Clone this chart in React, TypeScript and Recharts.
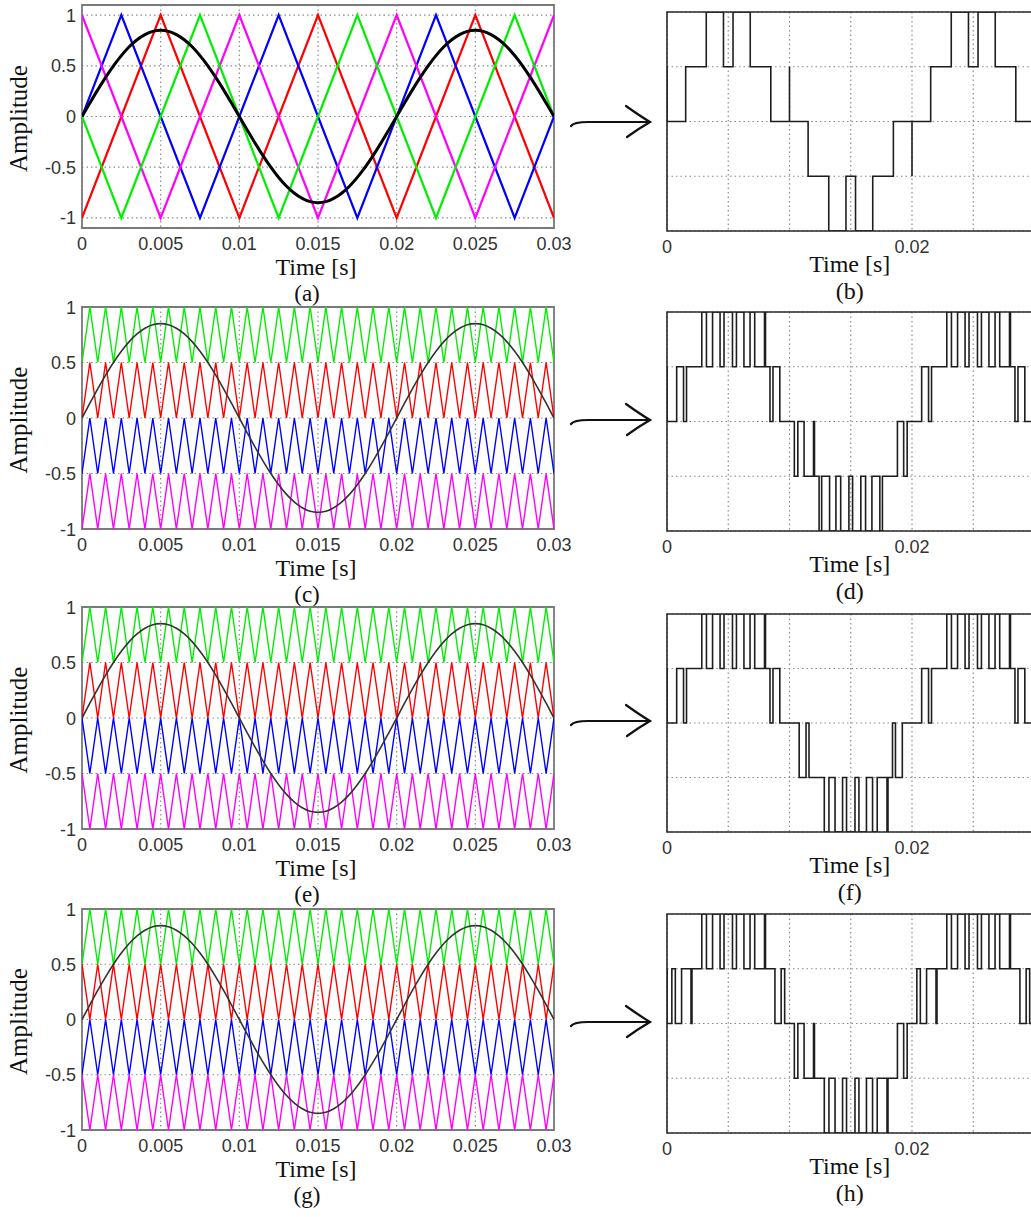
import React from 'react';
import { LineChart, Line, XAxis, YAxis, CartesianGrid, ReferenceArea } from 'recharts';

const SANS = "'Liberation Sans', Arial, sans-serif";
const SERIF = "'Liberation Serif', 'Times New Roman', serif";

// ---------- panel (a): phase-shifted carriers, vertices every 2.5 ms ----------
const tA = [0, 0.0025, 0.005, 0.0075, 0.01, 0.0125, 0.015, 0.0175, 0.02, 0.0225, 0.025, 0.0275, 0.03];
const redA = [-1, 0, 1, 0, -1, 0, 1, 0, -1, 0, 1, 0, -1];
const blueA = [0, 1, 0, -1, 0, 1, 0, -1, 0, 1, 0, -1, 0];
const magentaA = [1, 0, -1, 0, 1, 0, -1, 0, 1, 0, -1, 0, 1];
const greenA = [0, -1, 0, 1, 0, -1, 0, 1, 0, -1, 0, 1, 0];

// ---------- level-shifted carriers, vertices every 0.5 ms ----------
const t61 = [0, 0.0005, 0.001, 0.0015, 0.002, 0.0025, 0.003, 0.0035, 0.004, 0.0045, 0.005, 0.0055, 0.006, 0.0065, 0.007, 0.0075, 0.008, 0.0085, 0.009, 0.0095, 0.01, 0.0105, 0.011, 0.0115, 0.012, 0.0125, 0.013, 0.0135, 0.014, 0.0145, 0.015, 0.0155, 0.016, 0.0165, 0.017, 0.0175, 0.018, 0.0185, 0.019, 0.0195, 0.02, 0.0205, 0.021, 0.0215, 0.022, 0.0225, 0.023, 0.0235, 0.024, 0.0245, 0.025, 0.0255, 0.026, 0.0265, 0.027, 0.0275, 0.028, 0.0285, 0.029, 0.0295, 0.03];
const greenLow = [0.5, 1, 0.5, 1, 0.5, 1, 0.5, 1, 0.5, 1, 0.5, 1, 0.5, 1, 0.5, 1, 0.5, 1, 0.5, 1, 0.5, 1, 0.5, 1, 0.5, 1, 0.5, 1, 0.5, 1, 0.5, 1, 0.5, 1, 0.5, 1, 0.5, 1, 0.5, 1, 0.5, 1, 0.5, 1, 0.5, 1, 0.5, 1, 0.5, 1, 0.5, 1, 0.5, 1, 0.5, 1, 0.5, 1, 0.5, 1, 0.5];
const redLow = [0, 0.5, 0, 0.5, 0, 0.5, 0, 0.5, 0, 0.5, 0, 0.5, 0, 0.5, 0, 0.5, 0, 0.5, 0, 0.5, 0, 0.5, 0, 0.5, 0, 0.5, 0, 0.5, 0, 0.5, 0, 0.5, 0, 0.5, 0, 0.5, 0, 0.5, 0, 0.5, 0, 0.5, 0, 0.5, 0, 0.5, 0, 0.5, 0, 0.5, 0, 0.5, 0, 0.5, 0, 0.5, 0, 0.5, 0, 0.5, 0];
const redHigh = [0.5, 0, 0.5, 0, 0.5, 0, 0.5, 0, 0.5, 0, 0.5, 0, 0.5, 0, 0.5, 0, 0.5, 0, 0.5, 0, 0.5, 0, 0.5, 0, 0.5, 0, 0.5, 0, 0.5, 0, 0.5, 0, 0.5, 0, 0.5, 0, 0.5, 0, 0.5, 0, 0.5, 0, 0.5, 0, 0.5, 0, 0.5, 0, 0.5, 0, 0.5, 0, 0.5, 0, 0.5, 0, 0.5, 0, 0.5, 0, 0.5];
const blueLow = [-0.5, 0, -0.5, 0, -0.5, 0, -0.5, 0, -0.5, 0, -0.5, 0, -0.5, 0, -0.5, 0, -0.5, 0, -0.5, 0, -0.5, 0, -0.5, 0, -0.5, 0, -0.5, 0, -0.5, 0, -0.5, 0, -0.5, 0, -0.5, 0, -0.5, 0, -0.5, 0, -0.5, 0, -0.5, 0, -0.5, 0, -0.5, 0, -0.5, 0, -0.5, 0, -0.5, 0, -0.5, 0, -0.5, 0, -0.5, 0, -0.5];
const blueHigh = [0, -0.5, 0, -0.5, 0, -0.5, 0, -0.5, 0, -0.5, 0, -0.5, 0, -0.5, 0, -0.5, 0, -0.5, 0, -0.5, 0, -0.5, 0, -0.5, 0, -0.5, 0, -0.5, 0, -0.5, 0, -0.5, 0, -0.5, 0, -0.5, 0, -0.5, 0, -0.5, 0, -0.5, 0, -0.5, 0, -0.5, 0, -0.5, 0, -0.5, 0, -0.5, 0, -0.5, 0, -0.5, 0, -0.5, 0, -0.5, 0];
const magentaLow = [-1, -0.5, -1, -0.5, -1, -0.5, -1, -0.5, -1, -0.5, -1, -0.5, -1, -0.5, -1, -0.5, -1, -0.5, -1, -0.5, -1, -0.5, -1, -0.5, -1, -0.5, -1, -0.5, -1, -0.5, -1, -0.5, -1, -0.5, -1, -0.5, -1, -0.5, -1, -0.5, -1, -0.5, -1, -0.5, -1, -0.5, -1, -0.5, -1, -0.5, -1, -0.5, -1, -0.5, -1, -0.5, -1, -0.5, -1, -0.5, -1];
const magentaHigh = [-0.5, -1, -0.5, -1, -0.5, -1, -0.5, -1, -0.5, -1, -0.5, -1, -0.5, -1, -0.5, -1, -0.5, -1, -0.5, -1, -0.5, -1, -0.5, -1, -0.5, -1, -0.5, -1, -0.5, -1, -0.5, -1, -0.5, -1, -0.5, -1, -0.5, -1, -0.5, -1, -0.5, -1, -0.5, -1, -0.5, -1, -0.5, -1, -0.5, -1, -0.5, -1, -0.5, -1, -0.5, -1, -0.5, -1, -0.5, -1, -0.5];

// reference sine (amplitude ~0.85, 50 Hz), read every 0.5 ms
const sineRef = [0, 0.133, 0.263, 0.386, 0.5, 0.601, 0.688, 0.757, 0.808, 0.84, 0.85, 0.84, 0.808, 0.757, 0.688, 0.601, 0.5, 0.386, 0.263, 0.133, 0, -0.133, -0.263, -0.386, -0.5, -0.601, -0.688, -0.757, -0.808, -0.84, -0.85, -0.84, -0.808, -0.757, -0.688, -0.601, -0.5, -0.386, -0.263, -0.133, 0, 0.133, 0.263, 0.386, 0.5, 0.601, 0.688, 0.757, 0.808, 0.84, 0.85, 0.84, 0.808, 0.757, 0.688, 0.601, 0.5, 0.386, 0.263, 0.133, 0];

// ---------- output staircase waveforms (switching instants and levels) ----------
const outBTimes = [0, 0, 0.001525, 0.003205, 0.00461, 0.00539, 0.006795, 0.008475, 0.01, 0.01, 0.01152, 0.013205, 0.01461, 0.01539, 0.016795, 0.01848, 0.02, 0.02, 0.021525, 0.023205, 0.02461, 0.02539, 0.026795, 0.028475, 0.03];
const outBLevels = [1, 0, 1, 2, 1, 2, 1, 0, 1, 0, -1, -2, -1, -2, -1, 0, -1, 0, 1, 2, 1, 2, 1, 0, 0];

const outDTimes = [0, 0, 0.00079, 0.00135, 0.001594, 0.00284, 0.00322, 0.003719, 0.004332, 0.004655, 0.005345, 0.005668, 0.006281, 0.00678, 0.00716, 0.00796, 0.00804, 0.008406, 0.00865, 0.00921, 0.010395, 0.01068, 0.01119, 0.01196, 0.01204, 0.012415, 0.012625, 0.013272, 0.01379, 0.014178, 0.014849, 0.015151, 0.015822, 0.01621, 0.016728, 0.017375, 0.017585, 0.01881, 0.01932, 0.019605, 0.02079, 0.02135, 0.021594, 0.02284, 0.02322, 0.023719, 0.024332, 0.024655, 0.025345, 0.025668, 0.026281, 0.02678, 0.02716, 0.02796, 0.02804, 0.028406, 0.02865, 0.02921, 0.03];
const outDLevels = [1, 0, 1, 0, 1, 2, 1, 2, 1, 2, 1, 2, 1, 2, 1, 2, 1, 0, 1, 0, -1, 0, -1, 0, -1, -2, -1, -2, -1, -2, -1, -2, -1, -2, -1, -2, -1, 0, -1, 0, 1, 0, 1, 2, 1, 2, 1, 2, 1, 2, 1, 2, 1, 2, 1, 0, 1, 0, 0];

const outFTimes = [0, 0, 0.00079, 0.00135, 0.001594, 0.00284, 0.00322, 0.003719, 0.004332, 0.004655, 0.005345, 0.005668, 0.006281, 0.00678, 0.00716, 0.00796, 0.00804, 0.008406, 0.00865, 0.00921, 0.010791, 0.01135, 0.011592, 0.01284, 0.01322, 0.013718, 0.014332, 0.014655, 0.015345, 0.015668, 0.016282, 0.01678, 0.01716, 0.01796, 0.01804, 0.018408, 0.01865, 0.019209, 0.02079, 0.02135, 0.021594, 0.02284, 0.02322, 0.023719, 0.024332, 0.024655, 0.025345, 0.025668, 0.026281, 0.02678, 0.02716, 0.02796, 0.02804, 0.028406, 0.02865, 0.02921, 0.03];
const outFLevels = [1, 0, 1, 0, 1, 2, 1, 2, 1, 2, 1, 2, 1, 2, 1, 2, 1, 0, 1, 0, -1, 0, -1, -2, -1, -2, -1, -2, -1, -2, -1, -2, -1, -2, -1, 0, -1, 0, 1, 0, 1, 2, 1, 2, 1, 2, 1, 2, 1, 2, 1, 2, 1, 0, 1, 0, 0];

const outHTimes = [0, 0, 0.000395, 0.00068, 0.00119, 0.00196, 0.00204, 0.00284, 0.00322, 0.003719, 0.004332, 0.004655, 0.005345, 0.005668, 0.006281, 0.00678, 0.00716, 0.00796, 0.00804, 0.00881, 0.00932, 0.009605, 0.010395, 0.01068, 0.01119, 0.01196, 0.01204, 0.01284, 0.01322, 0.013718, 0.014332, 0.014655, 0.015345, 0.015668, 0.016282, 0.01678, 0.01716, 0.01796, 0.01804, 0.01881, 0.01932, 0.019605, 0.020395, 0.02068, 0.02119, 0.02196, 0.02204, 0.02284, 0.02322, 0.023719, 0.024332, 0.024655, 0.025345, 0.025668, 0.026281, 0.02678, 0.02716, 0.02796, 0.02804, 0.02881, 0.02932, 0.029605, 0.03];
const outHLevels = [1, 0, 1, 0, 1, 0, 1, 2, 1, 2, 1, 2, 1, 2, 1, 2, 1, 2, 1, 0, 1, 0, -1, 0, -1, 0, -1, -2, -1, -2, -1, -2, -1, -2, -1, -2, -1, -2, -1, 0, -1, 0, 1, 0, 1, 0, 1, 2, 1, 2, 1, 2, 1, 2, 1, 2, 1, 2, 1, 0, 1, 0, 0];

// ---------- tick values ----------
const leftXTicks = [0, 0.005, 0.01, 0.015, 0.02, 0.025, 0.03];
const leftYTicks = [-1, -0.5, 0, 0.5, 1];
const rightXTicks = [0, 0.005, 0.01, 0.015, 0.02, 0.025, 0.03];
const rightXLabelled = [0, 0.02];
const rightYTicks = [-2, -1, 0, 1, 2];

type Pt = { t: number; v: number };
const zip = (ts: number[], vs: number[]): Pt[] => ts.map((t, i) => ({ t, v: vs[i] }));

const RED = '#ff0000';
const GREEN = '#00ee00';
const BLUE = '#0000ff';
const MAGENTA = '#ff00ff';

type Series = { data: Pt[]; color: string; w: number; curve?: 'linear' | 'monotone' };

const LeftXTick = (p: any) => (
  <text x={p.x} y={p.y + 21.5} textAnchor="middle" fontFamily={SANS} fontSize={18} fill="#333">
    {String(p.payload.value)}
  </text>
);
const LeftYTick = (p: any) => (
  <text x={p.x - 6} y={p.y + 6.5} textAnchor="end" fontFamily={SANS} fontSize={18} fill="#333">
    {String(p.payload.value)}
  </text>
);
const RightXTick = (p: any) =>
  rightXLabelled.includes(p.payload.value) ? (
    <text x={p.x} y={p.y + 21.5} textAnchor="middle" fontFamily={SANS} fontSize={18} fill="#333">
      {String(p.payload.value)}
    </text>
  ) : (
    <g />
  );
const EmptyTick = () => <g />;

function LeftPanel({ top, plotH, yDomain, series, caption }: { top: number; plotH: number; yDomain: [number, number]; series: Series[]; caption: string }) {
  const mt = 10;
  const axisH = 90;
  return (
    <div style={{ position: 'absolute', left: 0, top: top - mt }}>
      <LineChart width={580} height={mt + plotH + axisH} margin={{ top: mt, right: 26, bottom: 0, left: 0 }}>
        <CartesianGrid stroke="#8a8a8a" strokeDasharray="1.5 3" strokeWidth={1.2} />
        <XAxis
          type="number"
          dataKey="t"
          domain={[0, 0.03]}
          ticks={leftXTicks}
          interval={0}
          height={axisH}
          tickSize={0}
          tickMargin={0}
          axisLine={false}
          tickLine={false}
          allowDataOverflow
          tick={LeftXTick}
          label={(p: any) => {
            const vb = p.viewBox;
            return (
              <g>
                <text x={vb.x + vb.width / 2 - 2} y={vb.y + 46.8} textAnchor="middle" fontFamily={SERIF} fontSize={24} fill="#111">
                  Time [s]
                </text>
                <text x={307} y={vb.y + 72.6} textAnchor="middle" fontFamily={SERIF} fontSize={23} fill="#111">
                  {caption}
                </text>
              </g>
            );
          }}
        />
        <YAxis
          type="number"
          domain={yDomain}
          ticks={leftYTicks}
          interval={0}
          width={82}
          tickSize={0}
          tickMargin={0}
          axisLine={false}
          tickLine={false}
          allowDataOverflow
          tick={LeftYTick}
          label={(p: any) => {
            const vb = p.viewBox;
            const cy = vb.y + vb.height / 2 + 2;
            return (
              <text transform={`translate(27, ${cy}) rotate(-90)`} textAnchor="middle" fontFamily={SERIF} fontSize={25} fill="#111">
                Amplitude
              </text>
            );
          }}
        />
        {series.map((s, i) => (
          <Line
            key={i}
            data={s.data}
            dataKey="v"
            type={s.curve || 'linear'}
            stroke={s.color}
            strokeWidth={s.w}
            dot={false}
            activeDot={false}
            isAnimationActive={false}
          />
        ))}
        <ReferenceArea x1={0} x2={0.03} y1={yDomain[0]} y2={yDomain[1]} fill="none" fillOpacity={0} stroke="#7a7a7a" strokeWidth={1.8} />
      </LineChart>
    </div>
  );
}

function RightPanel({ top, plotH, data, caption }: { top: number; plotH: number; data: Pt[]; caption: string }) {
  const mt = 10;
  const axisH = 90;
  return (
    <div style={{ position: 'absolute', left: 560, top: top - mt }}>
      <LineChart width={484.5} height={mt + plotH + axisH} margin={{ top: mt, right: 10, bottom: 0, left: 0 }}>
        <CartesianGrid stroke="#8a8a8a" strokeDasharray="1.5 3" strokeWidth={1.2} />
        <XAxis
          type="number"
          dataKey="t"
          domain={[0, 0.03]}
          ticks={rightXTicks}
          interval={0}
          height={axisH}
          tickSize={0}
          tickMargin={0}
          axisLine={false}
          tickLine={false}
          allowDataOverflow
          tick={RightXTick}
          label={(p: any) => {
            const vb = p.viewBox;
            return (
              <g>
                <text x={vb.x + vb.width / 2 - 1} y={vb.y + 41} textAnchor="middle" fontFamily={SERIF} fontSize={24} fill="#111">
                  Time [s]
                </text>
                <text x={vb.x + vb.width / 2 - 1} y={vb.y + 67.8} textAnchor="middle" fontFamily={SERIF} fontSize={24} fill="#111">
                  {caption}
                </text>
              </g>
            );
          }}
        />
        <YAxis
          type="number"
          domain={[-2, 2]}
          ticks={rightYTicks}
          interval={0}
          width={107}
          tick={EmptyTick}
          tickSize={0}
          tickMargin={0}
          axisLine={false}
          tickLine={false}
          allowDataOverflow
        />
        <Line
          data={data}
          dataKey="v"
          type="stepAfter"
          stroke="#1e1e1e"
          strokeWidth={1.6}
          dot={false}
          activeDot={false}
          isAnimationActive={false}
        />
        <ReferenceArea x1={0} x2={0.03} y1={-2} y2={2} fill="none" fillOpacity={0} stroke="#2a2a2a" strokeWidth={1.6} />
      </LineChart>
    </div>
  );
}

function Arrow({ y }: { y: number }) {
  return (
    <g fill="none" stroke="#111" strokeWidth={2.2} strokeLinecap="round">
      <path d={`M571,${y + 4} Q574,${y} 588,${y} L650,${y}`} />
      <path d={`M626,${y - 16} Q640,${y - 6} 650,${y} Q638,${y + 7} 627,${y + 15}`} />
    </g>
  );
}

const sineA = zip(t61, sineRef);

const panelA: Series[] = [
  { data: zip(tA, redA), color: RED, w: 2.2 },
  { data: zip(tA, blueA), color: BLUE, w: 2.2 },
  { data: zip(tA, magentaA), color: MAGENTA, w: 2.2 },
  { data: zip(tA, greenA), color: GREEN, w: 2.2 },
  { data: sineA, color: '#000', w: 3, curve: 'monotone' },
];
const panelC: Series[] = [
  { data: zip(t61, greenLow), color: GREEN, w: 1.4 },
  { data: zip(t61, redLow), color: RED, w: 1.4 },
  { data: zip(t61, blueLow), color: BLUE, w: 1.4 },
  { data: zip(t61, magentaLow), color: MAGENTA, w: 1.4 },
  { data: sineA, color: '#333', w: 1.6, curve: 'monotone' },
];
const panelE: Series[] = [
  { data: zip(t61, greenLow), color: GREEN, w: 1.4 },
  { data: zip(t61, redLow), color: RED, w: 1.4 },
  { data: zip(t61, blueHigh), color: BLUE, w: 1.4 },
  { data: zip(t61, magentaHigh), color: MAGENTA, w: 1.4 },
  { data: sineA, color: '#333', w: 1.6, curve: 'monotone' },
];
const panelG: Series[] = [
  { data: zip(t61, greenLow), color: GREEN, w: 1.4 },
  { data: zip(t61, redHigh), color: RED, w: 1.4 },
  { data: zip(t61, blueLow), color: BLUE, w: 1.4 },
  { data: zip(t61, magentaHigh), color: MAGENTA, w: 1.4 },
  { data: sineA, color: '#333', w: 1.6, curve: 'monotone' },
];

export default function App() {
  return (
    <div style={{ position: 'fixed', left: 0, top: 0, width: 1031, height: 1217, overflow: 'hidden', background: '#fff' }}>
      <LeftPanel top={5} plotH={223} yDomain={[-1.1, 1.1]} series={panelA} caption="(a)" />
      <LeftPanel top={307} plotH={222} yDomain={[-1, 1]} series={panelC} caption="(c)" />
      <LeftPanel top={607} plotH={222} yDomain={[-1, 1]} series={panelE} caption="(e)" />
      <LeftPanel top={909} plotH={221} yDomain={[-1, 1]} series={panelG} caption="(g)" />
      <RightPanel top={11.7} plotH={219} data={zip(outBTimes, outBLevels)} caption="(b)" />
      <RightPanel top={312} plotH={219} data={zip(outDTimes, outDLevels)} caption="(d)" />
      <RightPanel top={614} plotH={218} data={zip(outFTimes, outFLevels)} caption="(f)" />
      <RightPanel top={914} plotH={219} data={zip(outHTimes, outHLevels)} caption="(h)" />
      <svg width={1031} height={1217} style={{ position: 'absolute', left: 0, top: 0, pointerEvents: 'none' }}>
        <Arrow y={122} />
        <Arrow y={420} />
        <Arrow y={721} />
        <Arrow y={1022} />
      </svg>
    </div>
  );
}
